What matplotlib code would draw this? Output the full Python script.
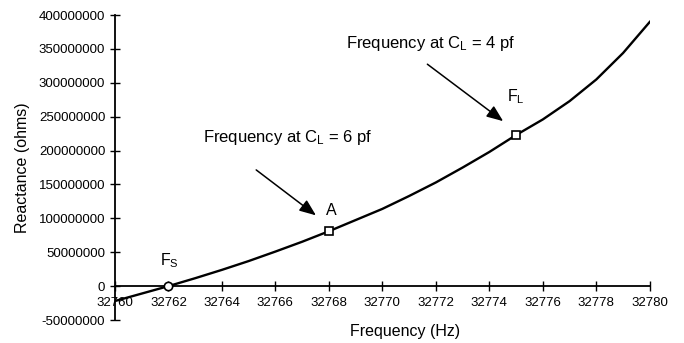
import matplotlib
matplotlib.use("Agg")
import matplotlib.pyplot as plt
from matplotlib.ticker import FuncFormatter

plt.rcParams['font.family'] = ['Liberation Sans', 'DejaVu Sans']
plt.rcParams['mathtext.fontset'] = 'custom'
plt.rcParams['mathtext.rm'] = 'Liberation Sans'
plt.rcParams['mathtext.it'] = 'Liberation Sans'

# Data
freq = [32760, 32761, 32762, 32763, 32764, 32765, 32766, 32767, 32768, 32769,
        32770, 32771, 32772, 32773, 32774, 32775, 32776, 32777, 32778, 32779, 32780]
reactance = [-22e6, -11e6, 0, 11.7e6, 24e6, 37e6, 51e6, 65.5e6, 81e6, 97.5e6,
             114e6, 133e6, 153e6, 175e6, 198e6, 223e6, 246e6, 273e6, 305e6, 344e6, 390e6]
marker_circle = [(32762, 0)]
marker_squares = [(32768, 81e6), (32775, 223e6)]
xticks = list(range(32760, 32781, 2))
yticks = [-50000000, 0, 50000000, 100000000, 150000000, 200000000,
          250000000, 300000000, 350000000, 400000000]

fig = plt.figure(figsize=(6.84, 3.43), dpi=100)
ax = fig.add_axes([0.168, 0.067, 0.782, 0.889])

ax.plot(freq, reactance, color='black', lw=1.7, zorder=3)
ax.plot([p[0] for p in marker_circle], [p[1] for p in marker_circle], 'o',
        ms=6, mfc='white', mec='black', mew=1.2, zorder=4)
ax.plot([p[0] for p in marker_squares], [p[1] for p in marker_squares], 's',
        ms=5.5, mfc='white', mec='black', mew=1.2, zorder=4)

ax.set_xlim(32760, 32780)
ax.set_ylim(-50000000, 400000000)
ax.set_xticks(xticks)
ax.set_yticks(yticks)
ax.xaxis.set_major_formatter(FuncFormatter(lambda v, p: f"{int(round(v))}"))
ax.yaxis.set_major_formatter(FuncFormatter(lambda v, p: f"{int(round(v))}"))

ax.spines['top'].set_visible(False)
ax.spines['right'].set_visible(False)
ax.spines['bottom'].set_position(('data', 0))
ax.spines['left'].set_linewidth(1.3)
ax.spines['bottom'].set_linewidth(1.3)
ax.tick_params(axis='both', direction='inout', length=7, width=1.0, labelsize=9.5)
ax.tick_params(axis='x', pad=4)
ax.set_facecolor('none')

ax.set_ylabel('Reactance (ohms)', fontsize=11.5, labelpad=6)
fig.text(0.592, 0.012, 'Frequency (Hz)', fontsize=11.5, ha='center', va='bottom')

# Annotations
ax.text(32768.1, 112e6, 'A', fontsize=11.5, ha='center', va='center')
ax.text(32762.05, 37e6, r'F$_\mathrm{S}$', fontsize=11.5, ha='center', va='center')
ax.text(32775.0, 279e6, r'F$_\mathrm{L}$', fontsize=11.5, ha='center', va='center')

ax.text(32763.3, 220e6, r'Frequency at C$_\mathrm{L}$ = 6 pf', fontsize=12, ha='left', va='center')
ax.text(32768.65, 358e6, r'Frequency at C$_\mathrm{L}$ = 4 pf', fontsize=12, ha='left', va='center')

ax.annotate('', xy=(32767.6, 102e6), xytext=(32765.2, 174e6),
            arrowprops=dict(arrowstyle='-|>,head_length=1.0,head_width=0.4', color='black', lw=1.1))
ax.annotate('', xy=(32774.6, 241e6), xytext=(32771.6, 330e6),
            arrowprops=dict(arrowstyle='-|>,head_length=1.0,head_width=0.4', color='black', lw=1.1))

fig.savefig('out.png', dpi=100)
